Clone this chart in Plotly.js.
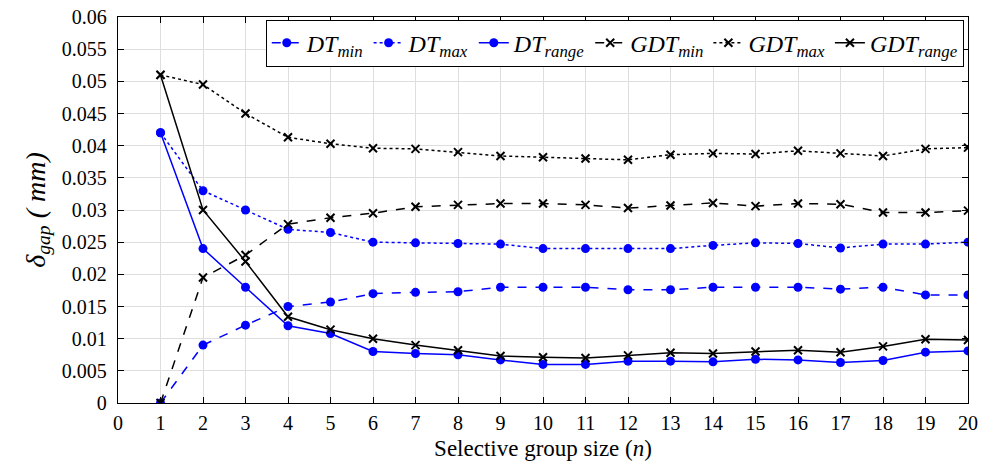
<!DOCTYPE html>
<html>
<head>
<meta charset="utf-8">
<script src="https://cdn.plot.ly/plotly-3.0.1.min.js"></script>
<style>html,body{margin:0;padding:0;background:#fff;}#chart{width:988px;height:463px;}</style>
</head>
<body>
<div id="chart"></div>
<script>
const groupSize = [1,2,3,4,5,6,7,8,9,10,11,12,13,14,15,16,17,18,19,20];
const dtMin   = [0,0.009,0.0121,0.015,0.0157,0.017,0.0172,0.0173,0.018,0.018,0.018,0.0176,0.0176,0.018,0.018,0.018,0.0177,0.018,0.0168,0.0168];
const dtMax   = [0.042,0.033,0.030,0.027,0.0265,0.025,0.0249,0.0248,0.0247,0.024,0.024,0.024,0.024,0.0245,0.0249,0.0248,0.0241,0.0247,0.0247,0.025];
const dtRange = [0.042,0.024,0.018,0.012,0.0108,0.008,0.0077,0.0075,0.0067,0.006,0.006,0.0065,0.0065,0.0064,0.0068,0.0067,0.0063,0.0066,0.0079,0.0081];
const gdtMin  = [0,0.0195,0.023,0.0278,0.0288,0.0295,0.0305,0.0308,0.031,0.031,0.0308,0.0303,0.0307,0.0311,0.0306,0.031,0.0309,0.0296,0.0296,0.0299];
const gdtMax  = [0.051,0.0495,0.045,0.0413,0.0403,0.0396,0.0395,0.039,0.0384,0.0382,0.038,0.0378,0.0386,0.0388,0.0387,0.0392,0.0388,0.0384,0.0395,0.0397];
const gdtRange= [0.051,0.030,0.022,0.0134,0.0114,0.01,0.009,0.0082,0.0073,0.0071,0.007,0.0074,0.0078,0.0077,0.008,0.0082,0.0079,0.0088,0.0099,0.0098];
const xTicks = [0,1,2,3,4,5,6,7,8,9,10,11,12,13,14,15,16,17,18,19,20];
const yTicks = [0,0.005,0.01,0.015,0.02,0.025,0.03,0.035,0.04,0.045,0.05,0.055,0.06];
const yTickText = ['0','0.005','0.01','0.015','0.02','0.025','0.03','0.035','0.04','0.045','0.05','0.055','0.06'];

const blue = '#0000ff', black = '#000000';
function tr(y, name, color, dash, sym){
  return {x: groupSize, y: y, name: name, type: 'scatter', mode: 'lines+markers',
    line: {color: color, width: 1.5, dash: dash},
    marker: sym === 'circle' ? {symbol: 'circle', size: 9, color: color}
                             : {symbol: 'x-thin', size: 8, color: color, line: {color: color, width: 2}}};
}
const data = [
  tr(dtMin, '<i>DT<sub>min</sub></i>', blue, 'dash', 'circle'),
  tr(dtMax, '<i>DT<sub>max</sub></i>', blue, 'dot', 'circle'),
  tr(dtRange, '<i>DT<sub>range</sub></i>', blue, 'solid', 'circle'),
  tr(gdtMin, '<i>GDT<sub>min</sub></i>', black, 'dash', 'x'),
  tr(gdtMax, '<i>GDT<sub>max</sub></i>', black, 'dot', 'x'),
  tr(gdtRange, '<i>GDT<sub>range</sub></i>', black, 'solid', 'x')
];
const FAM = 'Liberation Serif, Times New Roman, DejaVu Serif, serif';
const layout = {
  width: 988, height: 463,
  margin: {l: 118, r: 20, t: 17, b: 60},
  paper_bgcolor: '#fff', plot_bgcolor: '#fff',
  font: {family: FAM, size: 20, color: '#000'},
  showlegend: true,
  legend: {orientation: 'h', x: 0.995, xanchor: 'right', y: 0.993, yanchor: 'top',
    bordercolor: '#000', borderwidth: 1, bgcolor: '#fff',
    font: {family: FAM, size: 24, color: '#000'}, itemwidth: 30, tracegroupgap: 0},
  xaxis: {range: [0, 20], tickvals: xTicks,
    ticks: 'inside', ticklen: 6, tickcolor: '#000', showline: true, linecolor: '#000', linewidth: 1.2,
    mirror: 'ticks', showgrid: true, gridcolor: '#dedede', zeroline: false,
    tickfont: {family: FAM, size: 20}, ticklabelstandoff: 2,
    title: {text: 'Selective group size (<i>n</i>)', font: {family: FAM, size: 23}, standoff: 6}},
  yaxis: {range: [0, 0.06], tickvals: yTicks, ticktext: yTickText,
    ticks: 'inside', ticklen: 6, tickcolor: '#000', showline: true, linecolor: '#000', linewidth: 1.2,
    mirror: 'ticks', showgrid: true, gridcolor: '#dedede', zeroline: false,
    tickfont: {family: FAM, size: 20}, ticklabelstandoff: 6,
    title: {text: '<i>δ<sub>gap</sub> ( mm)</i>', font: {family: FAM, size: 28}, standoff: 8}}
};
Plotly.newPlot('chart', data, layout, {displayModeBar: false, staticPlot: true});
</script>
</body>
</html>
